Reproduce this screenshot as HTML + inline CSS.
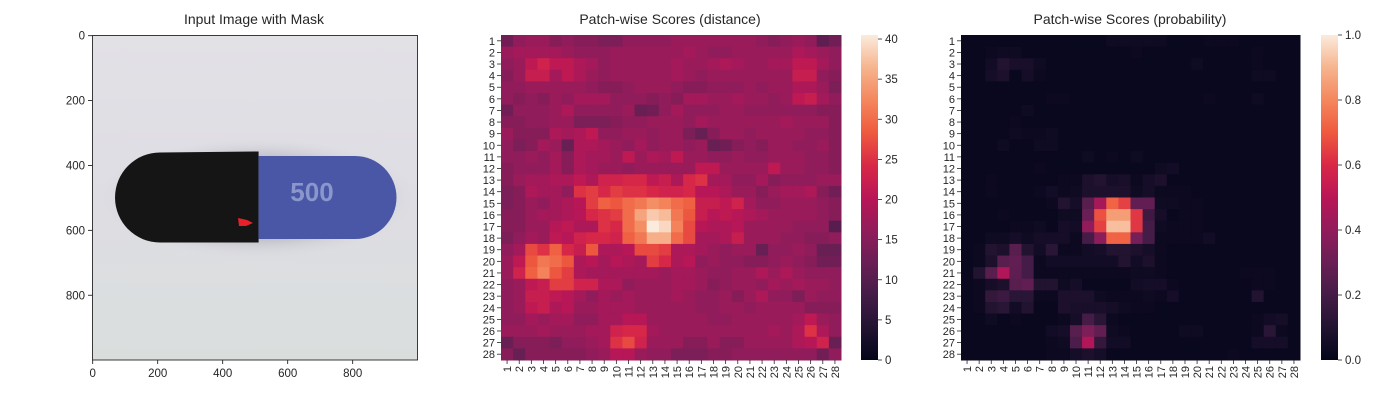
<!DOCTYPE html>
<html><head><meta charset="utf-8"><style>
body{margin:0;background:#fff}
svg text{font-family:"Liberation Sans",Arial,sans-serif;fill:#262626}
</style></head><body>
<svg id="c" width="1400" height="400" viewBox="0 0 1400 400" xmlns="http://www.w3.org/2000/svg">
<defs>
<linearGradient id="bg" x1="0" y1="0" x2="0" y2="1"><stop offset="0" stop-color="#e2e1e6"/><stop offset="0.5" stop-color="#dedde3"/><stop offset="1" stop-color="#d9dedd"/></linearGradient>
<radialGradient id="shadow" cx="0.5" cy="0.5" r="0.5"><stop offset="0.6" stop-color="#9a9aa8" stop-opacity="0.6"/><stop offset="1" stop-color="#dedde3" stop-opacity="0"/></radialGradient>
<linearGradient id="rocketV" x1="0" y1="1" x2="0" y2="0">
<stop offset="0" stop-color="#03051a"/><stop offset="0.1" stop-color="#221331"/><stop offset="0.2" stop-color="#451c47"/><stop offset="0.3" stop-color="#691f55"/><stop offset="0.4" stop-color="#921c5b"/><stop offset="0.5" stop-color="#b91657"/><stop offset="0.6" stop-color="#d92847"/><stop offset="0.7" stop-color="#ef5a3e"/><stop offset="0.8" stop-color="#f4875e"/><stop offset="0.9" stop-color="#f6b48e"/><stop offset="1" stop-color="#faebdd"/>
</linearGradient>
</defs>
<text x="254" y="24" font-size="14" text-anchor="middle">Input Image with Mask</text>
<g>
<rect x="92.5" y="35.5" width="325" height="324.5" fill="url(#bg)"/>
<ellipse cx="258" cy="198" rx="160" ry="62" fill="url(#shadow)"/>
<path d="M160,152.5 L258.6,151.5 L258.6,242.5 L160,242.5 A45,45 0 0 1 160,152.5 Z" fill="#151515"/>
<path d="M258.6,156 L355,156 A41.5,41.5 0 0 1 355,239 L258.6,239 Z" fill="#4a57a6"/>
<text x="312" y="201" font-size="26" font-weight="bold" text-anchor="middle" style="fill:#8a96cc">500</text>
<path d="M238,218 L247,220 L253,223 L246,226 L239,226 Z" fill="#e8202a"/>
<rect x="92.5" y="35.5" width="325" height="324.5" fill="none" stroke="#262626" stroke-width="0.9"/>
</g>
<g id="img-axes"></g>
<text x="670" y="24" font-size="14" text-anchor="middle">Patch-wise Scores (distance)</text>
<text x="1130" y="24" font-size="14" text-anchor="middle">Patch-wise Scores (probability)</text>
<g id="h1"></g>
<g id="h2"></g>
<rect x="861" y="35" width="17" height="325" fill="url(#rocketV)"/>
<rect x="1321" y="35" width="17" height="325" fill="url(#rocketV)"/>
<g id="cb"></g>
</svg>
<script>
const imgTicks = [0,200,400,600,800];
const cbDistTicks = [0,5,10,15,20,25,30,35,40];
const cbProbTicks = [0.0,0.2,0.4,0.6,0.8,1.0];
const distMax = 40.5;
const probMax = 1.0;
const distGrid = [
[13,16,17,17,15,16,15,15,14,14,16,16,16,16,17,17,17,17,17,17,17,16,15,16,17,16,11,13],
[17,18,18,18,18,17,16,16,16,17,17,17,17,17,17,18,17,16,16,17,17,17,17,17,19,18,17,16],
[16,17,21,23,21,21,19,18,16,17,17,17,17,17,18,17,17,18,19,18,17,17,18,18,21,21,18,16],
[15,17,22,22,18,21,19,17,16,17,17,17,17,17,18,17,16,17,17,17,17,17,17,17,22,22,16,15],
[16,16,17,17,17,17,17,16,15,15,16,17,17,17,16,15,15,16,16,16,17,16,17,17,19,19,17,14],
[16,15,16,15,17,16,18,18,18,16,16,16,15,16,15,18,18,17,17,18,17,17,16,17,21,22,18,16],
[13,16,16,16,17,19,16,16,16,16,17,12,13,16,18,16,16,16,17,17,16,16,16,16,16,16,15,15],
[15,15,16,16,17,17,14,14,14,15,16,16,17,17,17,16,18,17,17,17,17,17,17,18,17,17,17,15],
[17,15,15,15,19,18,19,21,16,16,17,17,16,17,17,14,12,15,17,17,16,17,17,17,17,16,16,15],
[16,14,15,18,17,12,19,19,18,17,16,18,16,17,17,16,17,12,13,15,16,15,17,17,16,16,17,15],
[16,16,17,16,18,15,19,18,18,17,21,17,19,18,21,17,17,16,16,17,16,16,17,17,17,16,16,15],
[15,16,16,16,18,15,19,18,17,17,16,17,17,17,17,17,21,21,17,17,17,17,21,17,17,16,16,15],
[15,17,18,18,19,19,21,19,23,23,24,24,21,22,19,24,25,18,18,16,16,18,15,16,16,16,17,17],
[14,15,19,18,18,16,25,26,24,26,25,25,24,23,23,24,20,20,19,17,17,15,17,18,18,19,15,13],
[14,15,17,16,18,19,20,26,29,28,30,31,33,32,30,29,22,22,21,23,18,16,16,17,17,17,16,15],
[15,15,17,18,18,19,20,24,25,26,30,35,38,37,31,28,22,20,21,20,19,18,17,17,17,17,16,15],
[15,15,17,17,20,21,19,19,25,24,30,33,40.5,39,32,27,20,19,19,20,17,17,17,17,16,16,16,10],
[14,16,18,17,21,20,23,24,24,23,29,31,36,36,30,27,18,18,19,22,17,17,17,16,16,15,15,16],
[16,18,27,25,29,24,22,28,19,19,20,27,27,26,19,19,18,17,16,17,17,12,16,16,17,16,12,12],
[17,21,28,31,30,28,19,20,18,20,19,18,26,24,19,20,16,17,16,16,15,15,16,17,16,15,13,13],
[17,23,29,32,28,26,19,18,18,18,18,18,18,17,18,18,17,16,16,17,17,19,17,19,17,16,16,16],
[16,17,21,22,26,26,23,23,19,19,16,17,17,17,18,18,17,15,16,17,17,16,18,17,18,17,17,16],
[16,17,22,22,21,20,18,16,18,17,18,17,17,17,18,17,16,16,17,15,17,19,16,16,14,17,16,16],
[16,17,21,22,19,20,17,17,18,18,18,17,17,17,17,17,16,16,17,17,16,17,17,17,17,15,15,15],
[16,16,18,17,18,18,16,16,18,18,20,20,17,17,17,17,17,16,16,17,17,17,17,17,18,21,17,16],
[17,17,17,18,17,17,17,18,18,23,24,24,18,17,17,17,17,17,17,17,17,17,18,17,19,25,19,16],
[12,15,15,15,14,16,16,17,18,25,27,23,17,17,17,15,15,17,15,15,17,17,17,17,19,20,23,12],
[15,12,15,15,15,15,15,16,17,20,20,17,16,16,14,14,14,15,15,16,16,16,16,16,16,16,13,16]
];
const probGrid = [
[.02,.02,.02,.02,.02,.02,.02,.02,.02,.02,.02,.02,.04,.04,.04,.04,.04,.02,.02,.02,.03,.03,.03,.02,.02,.02,.02,.02],
[.02,.02,.03,.04,.04,.02,.02,.02,.02,.02,.02,.02,.02,.02,.03,.02,.02,.02,.02,.02,.02,.02,.02,.02,.03,.02,.02,.02],
[.02,.02,.05,.1,.07,.07,.04,.02,.02,.02,.02,.02,.02,.02,.02,.02,.02,.02,.02,.04,.02,.02,.02,.02,.03,.02,.02,.02],
[.02,.02,.06,.08,.02,.06,.03,.02,.02,.02,.02,.02,.02,.02,.02,.02,.02,.02,.02,.02,.02,.02,.02,.02,.04,.04,.02,.02],
[.02,.02,.02,.02,.02,.02,.02,.02,.02,.02,.02,.02,.02,.02,.02,.02,.02,.02,.02,.02,.02,.02,.02,.02,.02,.02,.02,.02],
[.02,.02,.02,.02,.02,.02,.02,.03,.03,.02,.02,.02,.02,.02,.02,.02,.02,.02,.02,.02,.03,.02,.02,.02,.04,.02,.02,.02],
[.02,.02,.02,.02,.02,.04,.02,.02,.02,.02,.02,.02,.02,.02,.02,.02,.02,.02,.02,.02,.02,.02,.02,.02,.02,.02,.02,.02],
[.02,.02,.02,.02,.03,.02,.02,.02,.02,.02,.02,.02,.02,.02,.02,.02,.02,.02,.02,.02,.02,.02,.02,.02,.02,.02,.02,.02],
[.02,.02,.02,.02,.04,.03,.03,.04,.02,.02,.02,.02,.02,.02,.02,.02,.02,.02,.02,.02,.02,.02,.02,.02,.02,.02,.02,.02],
[.02,.02,.02,.04,.02,.02,.04,.04,.02,.02,.02,.02,.02,.02,.02,.02,.02,.02,.02,.02,.02,.02,.02,.02,.02,.02,.02,.02],
[.02,.02,.02,.02,.02,.02,.02,.02,.02,.02,.04,.02,.03,.02,.04,.02,.02,.02,.02,.02,.02,.02,.02,.02,.02,.02,.02,.02],
[.02,.02,.02,.02,.02,.02,.03,.02,.02,.02,.02,.02,.02,.02,.02,.02,.04,.05,.02,.02,.02,.02,.02,.02,.02,.02,.02,.02],
[.02,.02,.03,.02,.02,.02,.02,.02,.03,.03,.08,.1,.06,.07,.03,.06,.08,.02,.02,.02,.02,.02,.02,.02,.02,.02,.02,.02],
[.02,.02,.03,.02,.02,.02,.03,.05,.03,.04,.08,.08,.08,.08,.04,.06,.03,.03,.03,.02,.02,.02,.02,.02,.02,.02,.02,.02],
[.02,.02,.02,.02,.02,.02,.02,.03,.1,.06,.25,.45,.72,.65,.28,.28,.04,.04,.03,.03,.02,.02,.02,.02,.02,.02,.02,.02],
[.02,.02,.02,.03,.02,.02,.02,.02,.04,.04,.3,.68,.85,.85,.63,.18,.06,.02,.03,.03,.02,.02,.02,.02,.02,.02,.02,.02],
[.02,.02,.02,.02,.03,.03,.04,.02,.06,.05,.4,.65,.92,.92,.63,.2,.04,.03,.03,.03,.02,.02,.02,.02,.02,.02,.02,.02],
[.02,.02,.04,.04,.06,.04,.06,.06,.06,.03,.2,.38,.72,.72,.33,.2,.03,.03,.03,.03,.05,.02,.02,.02,.02,.02,.02,.02],
[.02,.03,.1,.08,.25,.1,.05,.12,.03,.03,.05,.06,.1,.1,.08,.06,.03,.02,.02,.02,.02,.02,.02,.02,.02,.02,.02,.02],
[.02,.03,.08,.25,.28,.2,.03,.05,.05,.05,.05,.05,.05,.1,.05,.08,.03,.02,.02,.02,.02,.02,.02,.02,.02,.02,.02,.02],
[.02,.1,.25,.48,.27,.2,.03,.03,.03,.03,.03,.03,.03,.03,.04,.04,.03,.02,.02,.02,.02,.02,.02,.03,.03,.03,.02,.02],
[.02,.03,.06,.08,.25,.28,.1,.1,.04,.06,.02,.02,.02,.02,.05,.06,.06,.03,.02,.02,.02,.02,.02,.02,.03,.03,.02,.02],
[.02,.03,.15,.17,.12,.12,.03,.03,.08,.08,.08,.04,.03,.03,.03,.04,.03,.06,.02,.02,.02,.02,.02,.02,.1,.02,.02,.02],
[.02,.03,.1,.12,.05,.1,.02,.02,.08,.07,.07,.07,.06,.04,.03,.03,.02,.02,.02,.02,.02,.02,.02,.02,.02,.02,.02,.02],
[.02,.02,.04,.02,.03,.02,.02,.02,.03,.06,.2,.12,.03,.02,.02,.02,.02,.02,.02,.02,.02,.02,.02,.02,.03,.05,.06,.02],
[.02,.02,.02,.02,.02,.02,.02,.05,.06,.25,.35,.28,.04,.03,.02,.02,.02,.02,.04,.04,.02,.02,.02,.02,.03,.12,.03,.02],
[.02,.02,.02,.02,.02,.02,.02,.03,.04,.22,.48,.15,.05,.05,.02,.02,.02,.02,.02,.02,.02,.02,.02,.02,.06,.06,.06,.02],
[.02,.02,.02,.02,.02,.02,.02,.03,.03,.06,.08,.06,.02,.02,.02,.02,.02,.02,.02,.02,.02,.02,.03,.02,.02,.02,.02,.02]
];
const NS='http://www.w3.org/2000/svg';
const stops=[[3,5,26],[34,19,49],[69,28,71],[105,31,85],[146,28,91],[185,22,87],[217,40,71],[239,90,62],[244,135,94],[246,180,142],[250,235,221]];
function rocket(t){t=Math.max(0,Math.min(1,t))*10;const i=Math.min(9,Math.floor(t)),f=t-i;const a=stops[i],b=stops[i+1];return 'rgb('+a.map((v,k)=>Math.round(v+(b[k]-v)*f)).join(',')+')';}
function mk(tag,attrs,parent,txt){const e=document.createElementNS(NS,tag);for(const k in attrs)e.setAttribute(k,attrs[k]);if(txt!==undefined)e.textContent=txt;parent.appendChild(e);return e;}
const svg=document.getElementById('c');
// image axes
const ia=document.getElementById('img-axes');
const ix=d=>92.5+(d+0.5)*0.325, iy=d=>35.5+(d+0.5)*0.3245;
imgTicks.forEach(v=>{
  mk('line',{x1:ix(v),x2:ix(v),y1:360,y2:364,stroke:'#262626','stroke-width':0.9},ia);
  const t=mk('text',{x:ix(v),y:377,'font-size':11.5,'text-anchor':'middle'},ia,String(v));
  
  
  mk('line',{x1:88,x2:92.5,y1:iy(v),y2:iy(v),stroke:'#262626','stroke-width':0.9},ia);
  const u=mk('text',{x:85,y:iy(v)+4,'font-size':11.5,'text-anchor':'end'},ia,String(v));
  
  
});
function heat(gid,grid,vmax,x0,x1,y0,y1,nm){
  const g=document.getElementById(gid);
  const n=grid.length,cw=(x1-x0)/grid[0].length,ch=(y1-y0)/n;
  grid.forEach((row,r)=>row.forEach((v,c)=>{
    const e=mk('rect',{x:x0+c*cw,y:y0+r*ch,width:cw+0.5,height:ch+0.5,fill:rocket(v/vmax)},g);
    
    
  }));
  for(let i=0;i<n;i++){
    const yc=y0+(i+0.5)*ch;
    mk('line',{x1:x0-4,x2:x0,y1:yc,y2:yc,stroke:'#262626','stroke-width':0.8},g);
    const t=mk('text',{x:x0-6,y:yc+4,'font-size':11,'text-anchor':'end'},g,String(i+1));
    
    
  }
  for(let j=0;j<grid[0].length;j++){
    const xc=x0+(j+0.5)*cw;
    mk('line',{x1:xc,x2:xc,y1:y1,y2:y1+4,stroke:'#262626','stroke-width':0.8},g);
    const t=mk('text',{x:0,y:0,'font-size':11,'text-anchor':'end',transform:'translate('+(xc+4)+','+(y1+6)+') rotate(-90)'},g,String(j+1));
    
    
  }
}
heat('h1',distGrid,distMax,501,841,35,360,'distance');
heat('h2',probGrid,probMax,961,1300,35,360,'probability');
const cb=document.getElementById('cb');
function cbar(ticks,vmax,x,fmt,nm){
  ticks.forEach(v=>{
    const y=360-(v/vmax)*325;
    mk('line',{x1:x,x2:x+4,y1:y,y2:y,stroke:'#262626','stroke-width':0.8},cb);
    const t=mk('text',{x:x+7,y:y+4,'font-size':11.5},cb,fmt(v));
    
    
  });
}
cbar(cbDistTicks,distMax,878,v=>String(v),'distance');
cbar(cbProbTicks,probMax,1338,v=>v.toFixed(1),'probability');
</script>
</body></html>
